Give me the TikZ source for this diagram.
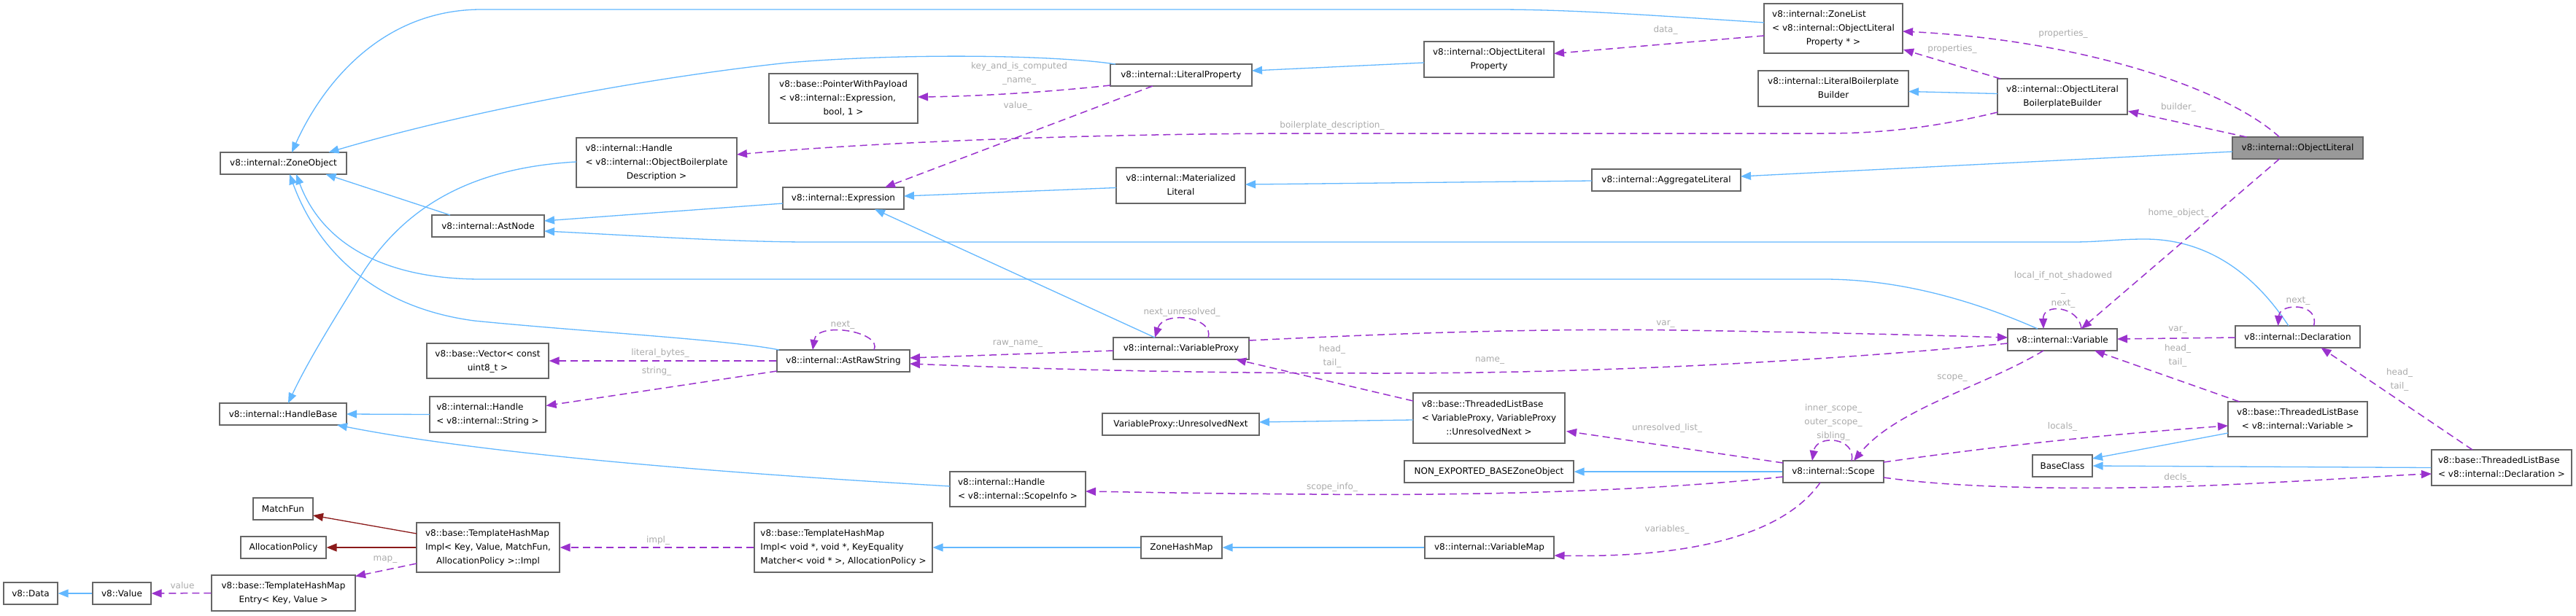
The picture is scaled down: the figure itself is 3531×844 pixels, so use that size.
\documentclass[tikz,border=0pt]{standalone}
\usepackage{fontspec}
\setmainfont{DejaVu Sans}
\usetikzlibrary{arrows.meta,calc}
\definecolor{inh}{HTML}{63B8FF}
\definecolor{use}{HTML}{9A32CD}
\definecolor{priv}{HTML}{8B1A1A}
\definecolor{bord}{HTML}{666666}
\definecolor{lblc}{HTML}{ABABAB}
\definecolor{hl}{HTML}{999999}
\newcommand{\mlab}[2]{\begin{tabular}{@{}l@{}}#1\\\multicolumn{1}{@{}c@{}}{#2}\end{tabular}}
\begin{document}
\begin{tikzpicture}[x=1pt,y=-1pt,
  box/.style={draw=bord, line width=1.2pt, fill=white, inner sep=0pt, font=\fontsize{12}{19}\selectfont, text=black},
  hlbox/.style={box, fill=hl},
  lbl/.style={text=lblc, font=\fontsize{12}{19}\selectfont, inner sep=0pt, align=center},
  inhe/.style={draw=inh, line width=1.3pt, -{Triangle[length=14pt,width=11pt]}},
  prve/.style={draw=priv, line width=1.3pt, -{Triangle[length=14pt,width=11pt]}},
  usee/.style={draw=use, line width=1.5pt, dash pattern=on 10pt off 6pt, -{Triangle[length=14pt,width=11pt]}},
]
\fill[white] (0,0) rectangle (3531,844);
\useasboundingbox (0,0) rectangle (3531,844);

% nodes
\node[box,minimum width=173pt,minimum height=30pt] (zo) at (388.5,224) {v8::internal::ZoneObject};
\node[box,minimum width=154pt,minimum height=30pt] (an) at (669,310) {v8::internal::AstNode};
\node[box,minimum width=220pt,minimum height=68pt] (hobd) at (900,223) {\mlab{v8::internal::Handle\\< v8::internal::ObjectBoilerplate}{Description >}};
\node[box,minimum width=167pt,minimum height=48pt] (vec) at (668.5,495) {\mlab{v8::base::Vector< const}{uint8\_t >}};
\node[box,minimum width=174pt,minimum height=30pt] (hb) at (388,568) {v8::internal::HandleBase};
\node[box,minimum width=159pt,minimum height=49pt] (hstr) at (668.5,568.5) {\mlab{v8::internal::Handle}{< v8::internal::String >}};
\node[box,minimum width=82pt,minimum height=30pt] (mf) at (388,698) {MatchFun};
\node[box,minimum width=117pt,minimum height=30pt] (ap) at (388.5,751) {AllocationPolicy};
\node[box,minimum width=196pt,minimum height=68pt] (impl) at (669,751) {\mlab{v8::base::TemplateHashMap\\Impl< Key, Value, MatchFun,}{AllocationPolicy >::Impl}};
\node[box,minimum width=197pt,minimum height=49pt] (entry) at (388.5,813.5) {\mlab{v8::base::TemplateHashMap}{Entry< Key, Value >}};
\node[box,minimum width=80pt,minimum height=30pt] (val) at (167,814) {v8::Value};
\node[box,minimum width=74pt,minimum height=30pt] (data) at (42,814) {v8::Data};
\node[box,minimum width=204pt,minimum height=68pt] (pwp) at (1156,135) {\mlab{v8::base::PointerWithPayload\\< v8::internal::Expression,}{bool, 1 >}};
\node[box,minimum width=194pt,minimum height=30pt] (lp) at (1619,103) {v8::internal::LiteralProperty};
\node[box,minimum width=166pt,minimum height=30pt] (expr) at (1156,272) {v8::internal::Expression};
\node[box,minimum width=177pt,minimum height=49pt] (ml) at (1618.5,254.5) {\mlab{v8::internal::Materialized}{Literal}};
\node[box,minimum width=190pt,minimum height=68pt] (zl) at (2513,39) {\mlab{v8::internal::ZoneList\\< v8::internal::ObjectLiteral}{Property * >}};
\node[box,minimum width=178pt,minimum height=49pt] (olp) at (2041,81.5) {\mlab{v8::internal::ObjectLiteral}{Property}};
\node[box,minimum width=206pt,minimum height=49pt] (lbb) at (2513,121.5) {\mlab{v8::internal::LiteralBoilerplate}{Builder}};
\node[box,minimum width=204pt,minimum height=30pt] (agg) at (2284,247) {v8::internal::AggregateLiteral};
\node[box,minimum width=178pt,minimum height=49pt] (olbb) at (2827,132.5) {\mlab{v8::internal::ObjectLiteral}{BoilerplateBuilder}};
\node[hlbox,minimum width=179pt,minimum height=30pt] (ol) at (3149.5,203) {v8::internal::ObjectLiteral};
\node[box,minimum width=150pt,minimum height=30pt] (var) at (2827,466) {v8::internal::Variable};
\node[box,minimum width=171pt,minimum height=30pt] (decl) at (3149.5,462) {v8::internal::Declaration};
\node[box,minimum width=191pt,minimum height=48pt] (tlbv) at (3149.5,575) {\mlab{v8::base::ThreadedListBase}{< v8::internal::Variable >}};
\node[box,minimum width=82pt,minimum height=30pt] (bc) at (2827,639) {BaseClass};
\node[box,minimum width=192pt,minimum height=49pt] (tlbd) at (3429,641.5) {\mlab{v8::base::ThreadedListBase}{< v8::internal::Declaration >}};
\node[box,minimum width=182pt,minimum height=30pt] (ars) at (1156,495) {v8::internal::AstRawString};
\node[box,minimum width=186pt,minimum height=30pt] (vp) at (1619,478) {v8::internal::VariableProxy};
\node[box,minimum width=215pt,minimum height=30pt] (urn) at (1618.5,582) {VariableProxy::UnresolvedNext};
\node[box,minimum width=186pt,minimum height=48pt] (hsi) at (1395,671) {\mlab{v8::internal::Handle}{< v8::internal::ScopeInfo >}};
\node[box,minimum width=244pt,minimum height=68pt] (thvoid) at (1156,751) {\mlab{v8::base::TemplateHashMap\\Impl< void *, void *, KeyEquality}{Matcher< void * >, AllocationPolicy >}};
\node[box,minimum width=111pt,minimum height=30pt] (zhm) at (1619.5,751) {ZoneHashMap};
\node[box,minimum width=208pt,minimum height=69pt] (tlbvp) at (2041,573.5) {\mlab{v8::base::ThreadedListBase\\< VariableProxy, VariableProxy}{::UnresolvedNext >}};
\node[box,minimum width=232pt,minimum height=30pt] (neb) at (2041,647) {NON\_EXPORTED\_BASEZoneObject};
\node[box,minimum width=138pt,minimum height=30pt] (scope) at (2513,647) {v8::internal::Scope};
\node[box,minimum width=177pt,minimum height=30pt] (vmap) at (2041.5,751) {v8::internal::VariableMap};

% inheritance (blue)
\draw[inhe] ($(zl)+(-95,-8)$) .. controls (2250,20) and (2150,13) .. (2050,13) -- (660,13) .. controls (520,13) and (440,120) .. ($(zo)+(11.5,-15)$);
\draw[inhe] ($(lp)+(-90,-15)$) .. controls (1450,76) and (1250,72) .. (1080,86) .. controls (900,105) and (650,150) .. ($(zo)+(62,-15)$);
\draw[inhe] ($(an)+(-52,-15)$) -- ($(zo)+(58,15)$);
\draw[inhe] ($(var)+(-34,-15)$) .. controls (2700,410) and (2600,383) .. (2500,383) -- (660,383) .. controls (520,383) and (440,330) .. ($(zo)+(17.5,15)$);
\draw[inhe] ($(ars)+(-88,-15)$) .. controls (1000,466) and (800,455) .. (650,440) .. controls (500,420) and (430,330) .. ($(zo)+(8.5,15)$);
\draw[inhe] ($(expr)+(-83,7)$) -- ($(an)+(77,-7)$);
\draw[inhe] ($(decl)+(-12.5,-15)$) .. controls (3080,360) and (3010,328) .. (2940,328) .. controls (2900,328) and (2880,332) .. (2840,332) -- (1110,332) .. controls (1000,332) and (850,322) .. ($(an)+(77,7)$);
\draw[inhe] ($(ml)+(-88.5,3)$) -- ($(expr)+(83,-3)$);
\draw[inhe] ($(agg)+(-102,1)$) -- ($(ml)+(88.5,-1.5)$);
\draw[inhe] ($(ol)+(-89.5,5)$) -- ($(agg)+(102,-5)$);
\draw[inhe] ($(olp)+(-89,4.5)$) -- ($(lp)+(97,-6)$);
\draw[inhe] ($(olbb)+(-89,-4)$) -- ($(lbb)+(103,4)$);
\draw[inhe] ($(vp)+(-36,-15)$) -- ($(expr)+(43,15)$);
\draw[inhe] ($(hobd)+(-110,-1)$) .. controls (650,230) and (560,280) .. (500,370) .. controls (450,450) and (420,500) .. ($(hb)+(7,-15)$);
\draw[inhe] ($(hstr)+(-79.5,0)$) -- ($(hb)+(87,0)$);
\draw[inhe] ($(hsi)+(-93,-4)$) .. controls (1100,655) and (700,630) .. ($(hb)+(74,15)$);
\draw[inhe] ($(tlbvp)+(-104,2.5)$) -- ($(urn)+(107.5,-3)$);
\draw[inhe] (scope.west) -- (neb.east);
\draw[inhe] ($(tlbv)+(-95.5,19)$) -- ($(bc)+(41,-10)$);
\draw[inhe] (tlbd.west) -- (bc.east);
\draw[inhe] (zhm.west) -- (thvoid.east);
\draw[inhe] (vmap.west) -- (zhm.east);
\draw[inhe] (val.west) -- (data.east);

% private (dark red)
\draw[prve] ($(impl)+(-98,-19)$) -- ($(mf)+(41,9)$);
\draw[prve] (impl.west) -- (ap.east);

% usage (purple dashed)
\draw[usee] ($(ol)+(-25,-15)$) .. controls (3050,120) and (2850,55) .. ($(zl)+(95,4)$);
\draw[usee] ($(olbb)+(-85,-24.5)$) -- ($(zl)+(96,29)$);
\draw[usee] ($(ol)+(-70,-15)$) -- ($(olbb)+(90,20)$);
\draw[usee] ($(olbb)+(-89,21.5)$) .. controls (2650,175) and (2580,183) .. (2500,183) -- (1800,183) .. controls (1500,183) and (1200,195) .. ($(hobd)+(110,-11)$);
\draw[usee] ($(zl)+(-95,10)$) -- ($(olp)+(89,-8)$);
\draw[usee] ($(lp)+(-97,14)$) .. controls (1450,125) and (1350,132) .. ($(pwp)+(102,-2)$);
\draw[usee] ($(lp)+(-39,15)$) -- ($(expr)+(57,-15)$);
\draw[usee] ($(ars)+(42,-15)$) .. controls (1210,455) and (1120,440) .. ($(ars)+(-42,-15)$);
\draw[usee] ($(vp)+(37,-15)$) .. controls (1665,435) and (1595,425) .. ($(vp)+(-36,-15)$);
\draw[usee] ($(vp)+(-93,3)$) -- ($(ars)+(91,-4)$);
\draw[usee] ($(var)+(-75,5)$) .. controls (2500,495) and (2200,512) .. (1900,512) .. controls (1600,512) and (1400,505) .. ($(ars)+(91,4)$);
\draw[usee] ($(vp)+(93,-11)$) .. controls (1900,458) and (2100,450) .. (2300,453) .. controls (2500,456) and (2650,460) .. ($(var)+(-75,-3)$);
\draw[usee] ($(tlbvp)+(-104,-23.5)$) -- ($(vp)+(75,15)$);
\draw[usee] ($(scope)+(-69,-12)$) -- ($(tlbvp)+(106,18)$);
\draw[usee] ($(scope)+(25,-15)$) .. controls (2545,600) and (2490,595) .. ($(scope)+(-29,-15)$);
\draw[usee] ($(var)+(-26,15)$) .. controls (2720,530) and (2600,560) .. ($(scope)+(28,-15)$);
\draw[usee] ($(scope)+(-69,7)$) .. controls (2250,675) and (2000,680) .. (1800,678) .. controls (1650,677) and (1550,675) .. ($(hsi)+(93,3)$);
\draw[usee] ($(scope)+(-18,15)$) .. controls (2440,740) and (2300,765) .. ($(vmap)+(89,11)$);
\draw[usee] ($(scope)+(69,-13)$) .. controls (2750,610) and (2900,595) .. ($(tlbv)+(-95.5,9)$);
\draw[usee] ($(scope)+(69,8)$) .. controls (2700,672) and (2900,672) .. (3050,665) .. controls (3200,658) and (3280,652) .. ($(tlbd)+(-96,8.5)$);
\draw[usee] ($(tlbv)+(-80,-24)$) -- ($(var)+(44,15)$);
\draw[usee] ($(tlbd)+(-40,-24.5)$) -- ($(decl)+(32,15)$);
\draw[usee] ($(decl)+(-85.5,1)$) -- ($(var)+(75,-1)$);
\draw[usee] ($(var)+(26,-15)$) .. controls (2850,420) and (2800,415) .. ($(var)+(-26,-15)$);
\draw[usee] ($(decl)+(22,-15)$) .. controls (3180,415) and (3125,415) .. ($(decl)+(-27,-15)$);
\draw[usee] ($(ol)+(-25,15)$) -- ($(var)+(26,-15)$);
\draw[usee] (ars.west) -- (vec.east);
\draw[usee] ($(ars)+(-91,14)$) -- ($(hstr)+(80,-12)$);
\draw[usee] (thvoid.west) -- (impl.east);
\draw[usee] ($(impl)+(-98,22)$) -- ($(entry)+(98.5,-23)$);
\draw[usee] (entry.west) -- (val.east);

% edge labels
\node[lbl] (l1) at (2828,46) {properties\_};
\node[lbl] (l2) at (2676,67) {properties\_};
\node[lbl] (l3) at (2986,147) {builder\_};
\node[lbl] (l4) at (1826,172) {boilerplate\_description\_};
\node[lbl] (l5) at (2283,41) {data\_};
\node[lbl] (l6) at (1397,100.5) {key\_and\_is\_computed\\\_name\_};
\node[lbl] (l7) at (1395,145) {value\_};
\node[lbl] (l8) at (1155,446) {next\_};
\node[lbl] (l9) at (1620,428) {next\_unresolved\_};
\node[lbl] (l10) at (1395,472) {raw\_name\_};
\node[lbl] (l11) at (2042,495) {name\_};
\node[lbl] (l12) at (2283,445) {var\_};
\node[lbl] (l13) at (1826,488.5) {head\_\\tail\_};
\node[lbl] (l14) at (2285,587) {unresolved\_list\_};
\node[lbl] (l15) at (2513,579) {inner\_scope\_\\outer\_scope\_\\sibling\_};
\node[lbl] (l16) at (2676,519) {scope\_};
\node[lbl] (l17) at (1826,668) {scope\_info\_};
\node[lbl] (l18) at (2285,726) {variables\_};
\node[lbl] (l19) at (2827,585) {locals\_};
\node[lbl] (l20) at (2985,655) {decls\_};
\node[lbl] (l21) at (2985,487.5) {head\_\\tail\_};
\node[lbl] (l22) at (3289,520.5) {head\_\\tail\_};
\node[lbl] (l23) at (2985,453) {var\_};
\node[lbl] (l24) at (2828,397.5) {local\_if\_not\_shadowed\\\_\\next\_};
\node[lbl] (l25) at (3150,413) {next\_};
\node[lbl] (l26) at (2986,292) {home\_object\_};
\node[lbl] (l27) at (905,484) {literal\_bytes\_};
\node[lbl] (l28) at (900,509) {string\_};
\node[lbl] (l29) at (902,741) {impl\_};
\node[lbl] (l30) at (528,768) {map\_};
\node[lbl] (l31) at (250,803) {value};
\end{tikzpicture}
\end{document}
